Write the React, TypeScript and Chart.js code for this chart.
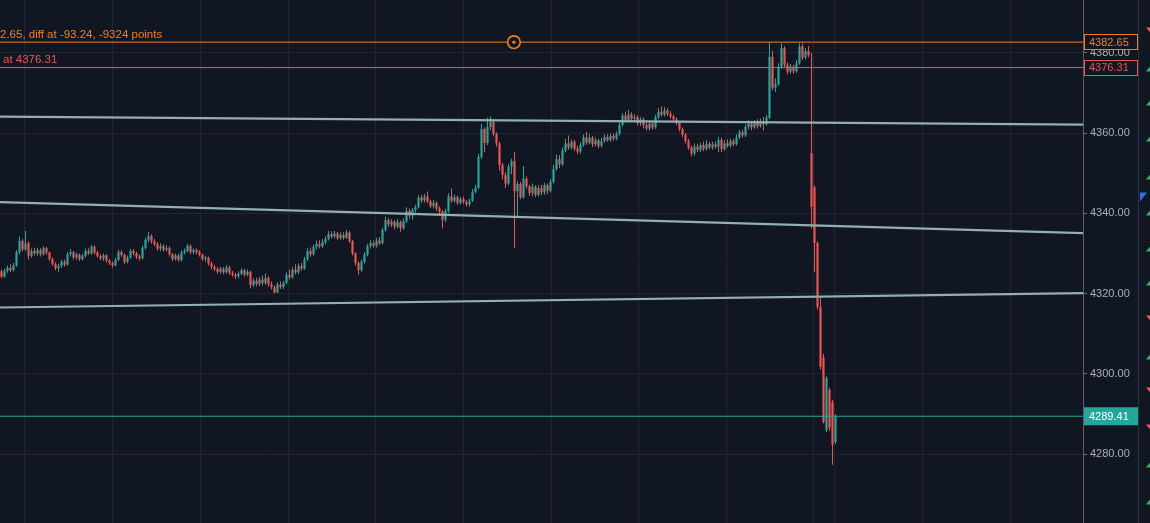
import React, { useEffect, useRef } from "react";
import { Chart, registerables } from "chart.js";

Chart.register(...registerables);

// ---- candle data (one candle per slot) ----
const opens = [
  4325.5, 4324.2, 4325.6, 4326.4, 4325.8, 4327.0, 4330.3, 4333.1, 4331.0, 4332.5,
  4329.4, 4330.6, 4330.0, 4330.8, 4329.8, 4331.3, 4330.2, 4328.6, 4327.4, 4326.3,
  4326.8, 4327.9, 4327.2, 4329.8, 4330.3, 4329.0, 4329.7, 4328.6, 4329.4, 4330.6,
  4330.0, 4331.6, 4330.2, 4329.3, 4328.8, 4329.5, 4328.2, 4327.6, 4327.0, 4328.4,
  4330.3, 4329.6, 4327.9, 4329.0, 4330.6, 4330.0, 4329.2, 4328.8, 4331.4, 4333.4,
  4334.3, 4333.0, 4332.3, 4331.2, 4331.8, 4330.9, 4331.3, 4329.8, 4328.6, 4329.5,
  4328.3, 4330.2, 4330.6, 4331.9, 4330.3, 4330.8, 4330.3, 4329.7, 4328.6, 4328.9,
  4327.5, 4326.6, 4326.1, 4325.4, 4326.2, 4325.3, 4326.5, 4325.2, 4324.7, 4324.3,
  4324.9, 4325.8, 4324.7, 4325.4, 4322.1, 4323.2, 4322.4, 4323.5, 4322.6, 4323.9,
  4322.3, 4321.6, 4320.3, 4322.2, 4321.6, 4322.6, 4324.6, 4324.0, 4325.9, 4325.3,
  4326.8, 4326.2, 4328.5, 4330.6, 4329.8, 4331.6, 4332.4, 4331.8, 4332.8, 4333.6,
  4334.8, 4334.2, 4335.0, 4333.8, 4334.6, 4333.9, 4335.2, 4333.1, 4330.0, 4327.6,
  4325.8, 4327.9, 4329.7, 4331.8, 4332.6, 4331.9, 4333.2, 4332.5, 4335.8, 4338.3,
  4337.2, 4337.9, 4336.7, 4337.8, 4336.3, 4338.0, 4340.6, 4339.4, 4340.8, 4341.5,
  4343.9, 4343.2, 4344.2, 4343.0, 4341.8, 4342.6, 4341.2, 4340.4, 4338.4, 4340.5,
  4344.2, 4343.1, 4344.0, 4342.6, 4343.5, 4342.8, 4342.2, 4343.1, 4345.3, 4346.3,
  4354.0, 4361.0, 4357.5, 4361.5, 4362.8, 4359.8, 4357.4, 4352.0, 4349.6, 4347.4,
  4351.6, 4353.0, 4345.5, 4347.3, 4344.0, 4348.6, 4346.7, 4345.0, 4346.6, 4344.6,
  4346.3, 4345.2, 4347.0, 4345.6, 4347.8, 4351.0, 4353.5, 4352.2, 4355.6, 4357.4,
  4356.4, 4357.8, 4356.1, 4355.4, 4357.0, 4358.9, 4357.6, 4358.8, 4357.2, 4358.2,
  4356.8, 4358.0, 4359.0, 4358.2, 4359.3, 4358.6, 4359.8, 4362.0, 4364.3, 4363.1,
  4364.6, 4363.6, 4364.0, 4362.5, 4363.4, 4362.0, 4361.1, 4362.3, 4361.4, 4363.9,
  4365.3, 4364.6, 4365.6, 4364.8, 4364.1, 4363.4, 4362.6, 4361.0, 4359.6, 4358.0,
  4356.4, 4354.9, 4356.6, 4355.8, 4357.0, 4356.0, 4357.3, 4356.4, 4357.2, 4356.6,
  4358.3, 4356.0, 4357.4, 4356.8, 4358.0, 4357.2, 4358.9, 4360.2, 4359.4, 4361.5,
  4362.3, 4361.4, 4362.5, 4361.7, 4362.9, 4362.2, 4363.8, 4379.0, 4371.3, 4372.2,
  4376.5, 4381.2, 4377.0, 4375.3, 4376.6, 4375.4, 4377.4, 4381.6, 4378.8, 4380.4,
  4355.0, 4346.5, 4332.6, 4316.6, 4304.0, 4286.0, 4296.0, 4293.0, 4283.0,
];
const highs = [
  4326.0, 4326.2, 4327.0, 4327.3, 4327.6, 4330.8, 4334.2, 4333.5, 4335.6, 4333.0,
  4331.2, 4331.4, 4331.4, 4331.3, 4331.8, 4331.6, 4330.5, 4329.0, 4327.8, 4327.4,
  4328.4, 4328.5, 4330.4, 4331.1, 4330.6, 4330.2, 4330.0, 4329.9, 4331.2, 4331.3,
  4332.1, 4332.0, 4330.6, 4329.8, 4330.0, 4329.8, 4328.6, 4328.0, 4328.9, 4330.9,
  4330.8, 4330.0, 4329.5, 4331.1, 4331.1, 4330.4, 4329.7, 4331.9, 4333.9, 4335.4,
  4334.8, 4333.6, 4332.8, 4332.5, 4332.3, 4332.0, 4331.7, 4330.1, 4330.0, 4329.9,
  4330.8, 4331.2, 4332.4, 4332.2, 4331.3, 4331.2, 4330.8, 4330.0, 4329.4, 4329.2,
  4328.0, 4327.1, 4326.6, 4326.7, 4326.6, 4327.1, 4326.9, 4325.7, 4325.2, 4325.5,
  4326.3, 4326.2, 4326.0, 4325.7, 4323.8, 4323.9, 4324.1, 4324.5, 4325.0, 4324.3,
  4323.0, 4322.0, 4322.8, 4323.0, 4323.2, 4325.3, 4326.0, 4326.6, 4327.3, 4327.5,
  4327.6, 4329.1, 4331.3, 4331.5, 4332.2, 4333.2, 4333.3, 4333.5, 4334.2, 4335.6,
  4335.5, 4335.6, 4335.4, 4335.2, 4335.3, 4335.9, 4335.6, 4333.4, 4330.3, 4328.0,
  4328.5, 4330.3, 4332.4, 4333.3, 4333.2, 4333.9, 4334.1, 4336.4, 4339.2, 4338.9,
  4338.6, 4338.3, 4338.6, 4338.2, 4338.7, 4341.5, 4341.2, 4341.3, 4342.1, 4344.5,
  4344.6, 4344.8, 4345.4, 4343.4, 4343.3, 4343.0, 4341.7, 4340.8, 4341.1, 4345.0,
  4346.2, 4344.7, 4344.4, 4344.1, 4344.2, 4343.3, 4343.6, 4346.0, 4347.1, 4354.8,
  4362.3, 4361.4, 4363.8, 4364.1, 4363.3, 4360.2, 4357.8, 4352.5, 4350.2, 4352.2,
  4353.6, 4355.3, 4348.0, 4347.8, 4351.8, 4349.2, 4347.1, 4347.4, 4347.0, 4347.0,
  4347.1, 4347.6, 4347.4, 4348.5, 4352.0, 4354.6, 4354.5, 4356.4, 4358.6, 4359.4,
  4358.4, 4358.3, 4356.8, 4357.7, 4359.6, 4360.3, 4359.8, 4359.3, 4358.9, 4358.6,
  4358.8, 4359.6, 4359.7, 4359.9, 4359.9, 4360.4, 4362.6, 4365.0, 4365.3, 4365.8,
  4365.2, 4364.7, 4364.4, 4364.0, 4363.9, 4362.6, 4363.0, 4362.8, 4364.5, 4366.2,
  4366.6, 4366.5, 4366.2, 4365.4, 4364.6, 4363.9, 4362.9, 4361.4, 4360.0, 4358.5,
  4356.9, 4357.4, 4357.3, 4357.6, 4357.9, 4358.2, 4357.8, 4357.8, 4357.9, 4359.0,
  4358.8, 4358.2, 4358.4, 4358.6, 4358.5, 4359.6, 4360.9, 4360.8, 4362.2, 4363.2,
  4362.8, 4363.2, 4363.4, 4363.6, 4364.0, 4364.4, 4382.6, 4380.5, 4373.6, 4377.4,
  4382.4, 4381.6, 4377.6, 4377.2, 4377.0, 4378.2, 4382.4, 4382.3, 4381.2, 4381.7,
  4380.0, 4347.0, 4333.0, 4319.1, 4305.0, 4299.4, 4296.5, 4293.5, 4290.0,
];
const lows = [
  4323.8, 4323.9, 4325.2, 4325.3, 4325.5, 4326.7, 4329.8, 4330.5, 4330.6, 4328.5,
  4328.9, 4329.5, 4329.4, 4329.2, 4329.5, 4329.6, 4328.1, 4326.9, 4325.8, 4325.4,
  4326.4, 4326.7, 4327.0, 4329.2, 4328.5, 4328.4, 4328.1, 4328.2, 4329.0, 4329.6,
  4329.6, 4329.7, 4328.9, 4328.3, 4328.1, 4327.7, 4327.1, 4326.5, 4326.8, 4328.1,
  4329.1, 4327.3, 4327.5, 4328.6, 4329.5, 4328.6, 4328.2, 4328.5, 4331.0, 4332.8,
  4332.4, 4331.8, 4330.7, 4330.6, 4330.4, 4330.5, 4329.2, 4328.0, 4328.2, 4327.9,
  4328.0, 4329.7, 4330.3, 4329.8, 4329.8, 4329.8, 4329.2, 4328.1, 4328.0, 4327.0,
  4326.0, 4325.6, 4324.9, 4324.9, 4324.8, 4325.0, 4324.6, 4324.2, 4323.6, 4323.8,
  4324.6, 4324.2, 4324.3, 4321.3, 4321.6, 4321.8, 4321.9, 4322.0, 4322.2, 4321.7,
  4321.0, 4320.0, 4320.1, 4321.1, 4321.2, 4322.3, 4323.5, 4323.7, 4324.8, 4324.8,
  4325.7, 4325.9, 4328.1, 4329.2, 4329.4, 4331.0, 4331.2, 4331.3, 4332.3, 4333.2,
  4333.7, 4333.8, 4333.3, 4333.4, 4333.4, 4333.6, 4332.6, 4329.5, 4327.0, 4324.7,
  4325.4, 4327.5, 4329.3, 4331.2, 4331.4, 4331.5, 4332.0, 4332.2, 4335.4, 4336.6,
  4336.5, 4336.0, 4336.2, 4335.4, 4335.8, 4337.6, 4338.7, 4338.4, 4340.2, 4341.2,
  4342.6, 4342.7, 4342.5, 4341.3, 4341.2, 4340.6, 4339.4, 4336.2, 4337.8, 4340.1,
  4342.6, 4342.6, 4342.1, 4342.2, 4342.3, 4341.7, 4341.6, 4342.8, 4345.0, 4346.0,
  4353.6, 4355.2, 4357.0, 4360.6, 4359.2, 4356.6, 4350.6, 4348.5, 4346.3, 4347.0,
  4349.7, 4331.3, 4339.0, 4343.5, 4343.6, 4346.2, 4344.3, 4344.2, 4344.0, 4344.2,
  4344.5, 4344.6, 4344.8, 4345.2, 4347.4, 4350.6, 4351.3, 4351.8, 4355.2, 4355.8,
  4355.9, 4355.5, 4354.7, 4354.9, 4356.6, 4357.1, 4357.2, 4356.5, 4356.7, 4356.2,
  4356.4, 4357.5, 4357.8, 4357.8, 4358.1, 4358.2, 4359.4, 4361.6, 4362.6, 4362.7,
  4363.0, 4362.9, 4361.9, 4361.8, 4361.2, 4360.6, 4360.6, 4360.8, 4361.0, 4363.5,
  4364.1, 4364.1, 4364.2, 4363.6, 4362.8, 4362.0, 4360.4, 4359.0, 4357.4, 4355.8,
  4354.2, 4354.4, 4355.2, 4355.3, 4355.5, 4355.6, 4355.9, 4355.8, 4356.1, 4355.2,
  4355.3, 4355.6, 4356.3, 4356.4, 4356.7, 4356.9, 4358.5, 4358.9, 4359.0, 4360.9,
  4360.7, 4361.0, 4361.1, 4361.3, 4360.6, 4361.8, 4363.5, 4370.6, 4370.2, 4371.8,
  4376.0, 4376.4, 4374.6, 4374.8, 4374.8, 4375.0, 4377.0, 4378.2, 4378.4, 4378.9,
  4336.2, 4325.4, 4316.0, 4301.0, 4287.6, 4285.5, 4285.8, 4277.3, 4282.5,
];
const closes = [
  4324.2, 4325.6, 4326.4, 4325.8, 4327.0, 4330.3, 4333.1, 4331.0, 4332.5, 4329.4,
  4330.6, 4330.0, 4330.8, 4329.8, 4331.3, 4330.2, 4328.6, 4327.4, 4326.3, 4326.8,
  4327.9, 4327.2, 4329.8, 4330.3, 4329.0, 4329.7, 4328.6, 4329.4, 4330.6, 4330.0,
  4331.6, 4330.2, 4329.3, 4328.8, 4329.5, 4328.2, 4327.6, 4327.0, 4328.4, 4330.3,
  4329.6, 4327.9, 4329.0, 4330.6, 4330.0, 4329.2, 4328.8, 4331.4, 4333.4, 4334.3,
  4333.0, 4332.3, 4331.2, 4331.8, 4330.9, 4331.3, 4329.8, 4328.6, 4329.5, 4328.3,
  4330.2, 4330.6, 4331.9, 4330.3, 4330.8, 4330.3, 4329.7, 4328.6, 4328.9, 4327.5,
  4326.6, 4326.1, 4325.4, 4326.2, 4325.3, 4326.5, 4325.2, 4324.7, 4324.3, 4324.9,
  4325.8, 4324.7, 4325.4, 4322.1, 4323.2, 4322.4, 4323.5, 4322.6, 4323.9, 4322.3,
  4321.6, 4320.3, 4322.2, 4321.6, 4322.6, 4324.6, 4324.0, 4325.9, 4325.3, 4326.8,
  4326.2, 4328.5, 4330.6, 4329.8, 4331.6, 4332.4, 4331.8, 4332.8, 4333.6, 4334.8,
  4334.2, 4335.0, 4333.8, 4334.6, 4333.9, 4335.2, 4333.1, 4330.0, 4327.6, 4325.8,
  4327.9, 4329.7, 4331.8, 4332.6, 4331.9, 4333.2, 4332.5, 4335.8, 4338.3, 4337.2,
  4337.9, 4336.7, 4337.8, 4336.3, 4338.0, 4340.6, 4339.4, 4340.8, 4341.5, 4343.9,
  4343.2, 4344.2, 4343.0, 4341.8, 4342.6, 4341.2, 4340.4, 4338.4, 4340.5, 4344.2,
  4343.1, 4344.0, 4342.6, 4343.5, 4342.8, 4342.2, 4343.1, 4345.3, 4346.3, 4354.0,
  4361.0, 4357.5, 4361.5, 4362.8, 4359.8, 4357.4, 4352.0, 4349.6, 4347.4, 4351.6,
  4353.0, 4345.5, 4347.3, 4344.0, 4348.6, 4346.7, 4345.0, 4346.6, 4344.6, 4346.3,
  4345.2, 4347.0, 4345.6, 4347.8, 4351.0, 4353.5, 4352.2, 4355.6, 4357.4, 4356.4,
  4357.8, 4356.1, 4355.4, 4357.0, 4358.9, 4357.6, 4358.8, 4357.2, 4358.2, 4356.8,
  4358.0, 4359.0, 4358.2, 4359.3, 4358.6, 4359.8, 4362.0, 4364.3, 4363.1, 4364.6,
  4363.6, 4364.0, 4362.5, 4363.4, 4362.0, 4361.1, 4362.3, 4361.4, 4363.9, 4365.3,
  4364.6, 4365.6, 4364.8, 4364.1, 4363.4, 4362.6, 4361.0, 4359.6, 4358.0, 4356.4,
  4354.9, 4356.6, 4355.8, 4357.0, 4356.0, 4357.3, 4356.4, 4357.2, 4356.6, 4358.3,
  4356.0, 4357.4, 4356.8, 4358.0, 4357.2, 4358.9, 4360.2, 4359.4, 4361.5, 4362.3,
  4361.4, 4362.5, 4361.7, 4362.9, 4362.2, 4363.8, 4379.0, 4371.3, 4372.2, 4376.5,
  4381.2, 4377.0, 4375.3, 4376.6, 4375.4, 4377.4, 4381.6, 4378.8, 4380.4, 4379.4,
  4341.6, 4332.6, 4316.6, 4301.7, 4288.0, 4298.9, 4286.6, 4282.3, 4289.41,
];

// ---- axes ----
const priceTicks = [4280, 4300, 4320, 4340, 4360, 4380];
const priceMin = 4262.81;
const priceMax = 4393.15;
const slotMin = -0.5;
const slotMax = 360.5;
const timeGridSlots = [7.83, 37.06, 66.28, 95.5, 124.72, 153.94, 183.17, 212.39, 241.61, 270.83, 277.6, 307.0, 336.4];

// ---- drawings ----
const trendStarts = [4364.07, 4342.76, 4316.51];
const trendEnds = [4362.1, 4335.06, 4320.08];
const levelHigh = 4382.65;
const levelAlert = 4376.31;
const lastPrice = 4289.41;
const measureText = "2.65, diff at -93.24, -9324 points";
const alertText = "at 4376.31";
const markerSlot = 170.8;
const sideMarkerPrices = [4385.67, 4375.95, 4367.48, 4358.5, 4349.04, 4340.07, 4331.1, 4322.62, 4313.9, 4304.18, 4295.96, 4286.73, 4277.26, 4268.04];
const sideMarkerUp = [false, true, true, true, true, true, true, true, false, true, false, false, true, true];
const blueMarkerPrice = 4344.05;

const BG = "#111722";
const GRID = "#20252f";
const UP = "#26a69a";
const DOWN = "#ef5350";
const ORANGE = "#f57f20";
const ALERT = "#ee5552";
const TREND = "#92afb3";
const FONT = '"Liberation Sans", Arial, sans-serif';

export default function App() {
  const ref = useRef<HTMLCanvasElement | null>(null);

  useEffect(() => {
    document.body.style.margin = "0";
    document.body.style.background = BG;
    const canvas = ref.current;
    if (!canvas) return;

    const slots = closes.map((_, i) => i);
    const colors = slots.map((i) => (closes[i] >= opens[i] ? UP : DOWN));

    const lineDs = (a: number, b: number, color: string, width: number) => ({
      type: "line" as const,
      data: [
        { x: slotMin, y: a },
        { x: slotMax, y: b },
      ],
      borderColor: color,
      borderWidth: width,
      pointRadius: 0,
      order: -1,
    });

    const overlay = {
      id: "overlay",
      beforeDraw(chart: any) {
        const c = chart.ctx;
        c.save();
        c.fillStyle = BG;
        c.fillRect(0, 0, chart.width, chart.height);
        c.restore();
      },
      afterDatasetsDraw(chart: any) {
        const c = chart.ctx;
        const ys = chart.scales.y;
        const xs = chart.scales.x;
        const area = chart.chartArea;
        c.save();
        c.font = `11.5px ${FONT}`;
        c.textBaseline = "middle";
        c.textAlign = "left";
        c.fillStyle = ORANGE;
        c.fillText(measureText, area.left, ys.getPixelForValue(levelHigh) - 7);
        c.fillStyle = ALERT;
        c.fillText(alertText, area.left + 3, ys.getPixelForValue(levelAlert) - 8);
        // measurement anchor circle
        const cx = xs.getPixelForValue(markerSlot);
        const cy = ys.getPixelForValue(levelHigh);
        c.beginPath();
        c.arc(cx, cy, 6.3, 0, Math.PI * 2);
        c.fillStyle = BG;
        c.fill();
        c.lineWidth = 1.6;
        c.strokeStyle = ORANGE;
        c.stroke();
        c.beginPath();
        c.arc(cx, cy, 1.6, 0, Math.PI * 2);
        c.fillStyle = ORANGE;
        c.fill();
        c.restore();
      },
      afterDraw(chart: any) {
        const c = chart.ctx;
        const ys = chart.scales.y;
        const area = chart.chartArea;
        c.save();
        // right strip separator
        c.fillStyle = "#2c303b";
        c.fillRect(area.right + 55, 0, 1, chart.height);
        // price boxes
        c.font = `11px ${FONT}`;
        c.textBaseline = "middle";
        c.textAlign = "left";
        const box = (v: number, stroke: string | null, fill: string, text: string, h: number) => {
          const y = ys.getPixelForValue(v);
          const x0 = area.right + 1;
          const w = 54;
          c.fillStyle = fill;
          c.fillRect(x0, y - h / 2, w, h);
          if (stroke) {
            c.strokeStyle = stroke;
            c.lineWidth = 1;
            c.strokeRect(x0 + 0.5, Math.round(y - h / 2) + 0.5, w - 1, h - 1);
          }
          c.fillStyle = text;
          c.fillText(v.toFixed(2), x0 + 5, y + 0.5);
        };
        box(levelHigh, ORANGE, BG, ORANGE, 16);
        box(levelAlert, ALERT, BG, ALERT, 16);
        box(lastPrice, null, UP, "#ffffff", 18);
        // side markers
        const tipX = chart.width;
        sideMarkerPrices.forEach((p, i) => {
          const y = ys.getPixelForValue(p);
          c.beginPath();
          if (sideMarkerUp[i]) {
            c.moveTo(tipX - 4, y + 2.5);
            c.lineTo(tipX, y - 2.5);
            c.lineTo(tipX, y + 2.5);
            c.fillStyle = "#2fb36b";
          } else {
            c.moveTo(tipX - 4, y - 2.5);
            c.lineTo(tipX, y + 2.5);
            c.lineTo(tipX, y - 2.5);
            c.fillStyle = DOWN;
          }
          c.closePath();
          c.fill();
        });
        const by = ys.getPixelForValue(blueMarkerPrice);
        c.beginPath();
        c.moveTo(area.right + 57, by - 4.5);
        c.lineTo(area.right + 64, by - 4.5);
        c.lineTo(area.right + 57, by + 4.5);
        c.closePath();
        c.fillStyle = "#2f6df6";
        c.fill();
        c.restore();
      },
    };

    const chart = new Chart(canvas, {
      type: "bar",
      data: {
        datasets: [
          ...trendStarts.map((s, i) => lineDs(s, trendEnds[i], TREND, 2.2)),
          lineDs(levelHigh, levelHigh, ORANGE, 1),
          lineDs(levelAlert, levelAlert, ALERT, 1),
          lineDs(lastPrice, lastPrice, UP, 1),
          {
            type: "bar",
            data: slots.map((i) => ({ x: i, y: [lows[i], highs[i]] })),
            backgroundColor: colors,
            barThickness: 1,
            grouped: false,
            inflateAmount: 0,
            order: 2,
          } as any,
          {
            type: "bar",
            data: slots.map((i) => ({ x: i, y: [opens[i], closes[i]] })),
            backgroundColor: colors,
            barThickness: 2.2,
            minBarLength: 1,
            grouped: false,
            inflateAmount: 0,
            order: 1,
          } as any,
        ],
      },
      options: {
        animation: false,
        responsive: true,
        maintainAspectRatio: false,
        layout: { padding: 0 },
        plugins: { legend: { display: false }, tooltip: { enabled: false } },
        scales: {
          x: {
            type: "linear",
            min: slotMin,
            max: slotMax,
            offset: false,
            afterBuildTicks: (s: any) => {
              s.ticks = timeGridSlots.map((v) => ({ value: v }));
            },
            afterFit: (s: any) => {
              s.height = 0;
              s.paddingLeft = 0;
              s.paddingRight = 0;
            },
            ticks: { display: false },
            grid: { color: GRID, drawTicks: false, offset: false },
            border: { display: false },
          },
          y: {
            type: "linear",
            position: "right",
            min: priceMin,
            max: priceMax,
            afterBuildTicks: (s: any) => {
              s.ticks = priceTicks.map((v) => ({ value: v }));
            },
            afterFit: (s: any) => {
              s.width = 67;
              s.paddingTop = 0;
              s.paddingBottom = 0;
            },
            ticks: {
              color: "#aab0b9",
              font: { family: FONT, size: 11 },
              padding: 3,
              callback: (v: any) => Number(v).toFixed(2),
            },
            grid: { color: GRID, tickColor: "#6f737d", tickLength: 4, drawTicks: true },
            border: { color: "#5a5e68" },
          },
        },
      } as any,
      plugins: [overlay],
    });

    return () => chart.destroy();
  }, []);

  return (
    <div style={{ position: "fixed", left: 0, top: 0, width: 1150, height: 523, background: BG }}>
      <canvas ref={ref} />
    </div>
  );
}
